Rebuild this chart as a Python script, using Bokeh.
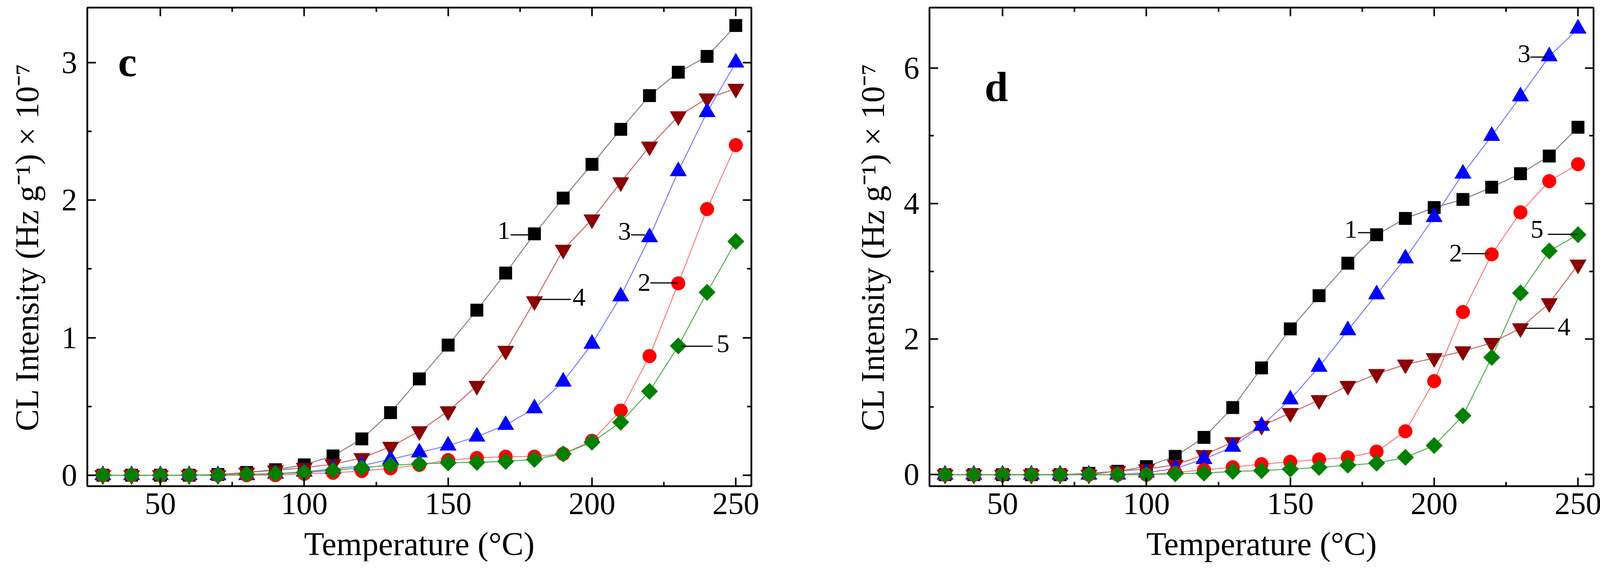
import math
from bokeh.plotting import figure
from bokeh.models import Range1d, FixedTicker, LinearAxis, Label, CustomJSTickFormatter
from bokeh.layouts import row
from bokeh.embed import file_html
from bokeh.resources import INLINE

# ---------------- data ----------------
temperature = [30, 40, 50, 60, 70, 80, 90, 100, 110, 120, 130, 140,
               150, 160, 170, 180, 190, 200, 210, 220, 230, 240, 250]

# panel c
c_1 = [0.0, 0.0, 0.0, 0.0, 0.005, 0.02, 0.04, 0.075, 0.14, 0.264, 0.455, 0.70,
       0.946, 1.20, 1.47, 1.755, 2.015, 2.26, 2.515, 2.76, 2.93, 3.045, 3.27]
c_2 = [0.0, 0.0, 0.0, 0.0, 0.0, 0.0, 0.0, 0.01, 0.017, 0.03, 0.05, 0.075,
       0.11, 0.125, 0.135, 0.135, 0.155, 0.25, 0.47, 0.866, 1.395, 1.935, 2.40]
c_3 = [0.0, 0.0, 0.0, 0.0, 0.0, 0.0, 0.01, 0.025, 0.045, 0.07, 0.115, 0.165,
       0.215, 0.28, 0.365, 0.486, 0.68, 0.955, 1.30, 1.73, 2.21, 2.64, 3.0]
c_4 = [0.0, 0.0, 0.0, 0.0, 0.0, 0.02, 0.035, 0.054, 0.08, 0.125, 0.207, 0.32,
       0.465, 0.65, 0.905, 1.265, 1.64, 1.86, 2.13, 2.39, 2.61, 2.74, 2.81]
c_5 = [0.0, 0.0, 0.0, 0.0, 0.0, 0.007, 0.011, 0.02, 0.035, 0.054, 0.073, 0.082,
       0.09, 0.093, 0.10, 0.115, 0.155, 0.24, 0.385, 0.61, 0.94, 1.33, 1.70]

# panel d
d_1 = [0.0, 0.0, 0.0, 0.0, 0.0, 0.02, 0.05, 0.12, 0.27, 0.55, 0.99, 1.575,
       2.15, 2.64, 3.12, 3.54, 3.78, 3.94, 4.06, 4.24, 4.44, 4.70, 5.125]
d_2 = [0.0, 0.0, 0.0, 0.0, 0.0, 0.0, 0.0, 0.0, 0.03, 0.07, 0.11, 0.155,
       0.19, 0.225, 0.255, 0.34, 0.64, 1.38, 2.40, 3.25, 3.87, 4.33, 4.58]
d_3 = [0.0, 0.0, 0.0, 0.0, 0.0, 0.0, 0.0, 0.03, 0.09, 0.23, 0.41, 0.72,
       1.11, 1.59, 2.13, 2.66, 3.19, 3.80, 4.44, 4.997, 5.58, 6.17, 6.58]
d_4 = [0.0, 0.0, 0.0, 0.0, 0.0, 0.0, 0.055, 0.08, 0.145, 0.29, 0.48, 0.72,
       0.91, 1.10, 1.31, 1.485, 1.625, 1.72, 1.82, 1.945, 2.16, 2.53, 3.10]
d_5 = [0.0, 0.0, 0.0, 0.0, 0.0, 0.0, 0.0, 0.0, 0.013, 0.023, 0.048, 0.06,
       0.082, 0.107, 0.14, 0.17, 0.255, 0.43, 0.87, 1.73, 2.68, 3.30, 3.54]

x_ticks = [50, 100, 150, 200, 250]
x_minor_ticks = [75, 125, 175, 225]
c_y_ticks = [0, 1, 2, 3]
c_y_minor_ticks = [0.5, 1.5, 2.5]
d_y_ticks = [0, 2, 4, 6]
d_y_minor_ticks = [1, 3, 5]

series_names = ["1", "2", "3", "4", "5"]
x_label = "Temperature (°C)"
y_label = "CL Intensity (Hz g⁻¹) × 10⁻⁷"

# ---------------- styles ----------------
SERIF = "Liberation Serif"
# name: (marker, fill color, line color, size, angle)
styles = {
    "1": ("square", "#000000", "#808080", 32, 0.0),
    "2": ("circle", "#ff0000", "#ff7a7a", 35, 0.0),
    "3": ("triangle", "#0000ff", "#7a7aff", 42, 0.0),
    "4": ("inverted_triangle", "#8b0000", "#c86464", 42, 0.0),
    "5": ("square", "#008000", "#4caf4c", 30, math.pi / 4),
}
draw_order = ["1", "4", "3", "2", "5"]


def style_axis(ax, show_labels=True):
    ax.axis_line_color = "black"
    ax.axis_line_width = 4
    ax.major_tick_in = 22
    ax.major_tick_out = 0
    ax.minor_tick_in = 11
    ax.minor_tick_out = 0
    ax.major_tick_line_width = 4
    ax.minor_tick_line_width = 4
    ax.major_tick_line_color = "black"
    ax.minor_tick_line_color = "black"
    if show_labels:
        ax.major_label_text_font = SERIF
        ax.major_label_text_font_size = "80px"
        ax.major_label_text_color = "black"
    else:
        ax.formatter = CustomJSTickFormatter(code="return ''")
        ax.major_label_text_font_size = "1px"
        ax.major_label_standoff = 0


def make_panel(letter, data, yr, yticks, yminor, labels, borders, ylab_standoff,
               letter_pos):
    p = figure(frame_width=1700, frame_height=1226,
               x_range=Range1d(24.6, 255.4), y_range=Range1d(*yr),
               output_backend="svg", toolbar_location=None,
               min_border_left=borders[0], min_border_right=borders[1],
               min_border_top=borders[2], min_border_bottom=borders[3])
    p.xgrid.visible = False
    p.ygrid.visible = False
    p.outline_line_color = "black"
    p.outline_line_width = 4
    p.background_fill_color = "white"
    p.border_fill_color = "white"

    xt = FixedTicker(ticks=x_ticks, minor_ticks=x_minor_ticks)
    yt = FixedTicker(ticks=yticks, minor_ticks=yminor)
    p.xaxis.ticker = xt
    p.yaxis.ticker = yt
    style_axis(p.xaxis[0])
    style_axis(p.yaxis[0])
    p.xaxis.major_label_standoff = 18
    p.yaxis.major_label_standoff = 26
    p.xaxis.axis_label = x_label
    p.yaxis.axis_label = y_label
    for ax in (p.xaxis[0], p.yaxis[0]):
        ax.axis_label_text_font = SERIF
        ax.axis_label_text_font_size = "84px"
        ax.axis_label_text_font_style = "normal"
        ax.axis_label_text_color = "black"
    p.xaxis.axis_label_standoff = 27
    p.yaxis.axis_label_standoff = ylab_standoff

    top = LinearAxis(ticker=FixedTicker(ticks=x_ticks, minor_ticks=x_minor_ticks))
    right = LinearAxis(ticker=FixedTicker(ticks=yticks, minor_ticks=yminor))
    style_axis(top, show_labels=False)
    style_axis(right, show_labels=False)
    p.add_layout(top, "above")
    p.add_layout(right, "right")

    for name in draw_order:
        _, _, lc, _, _ = styles[name]
        p.line(temperature, data[name], line_color=lc, line_width=2.5)
    for name in draw_order:
        mk, fc, _, sz, ang = styles[name]
        p.scatter(temperature, data[name], marker=mk, size=sz, angle=ang,
                  fill_color=fc, line_color=fc, line_width=1)

    # curve labels with leader lines
    for txt, tx, ty, align, x0, x1, ly in labels:
        p.add_layout(Label(x=tx, y=ty, text=txt, text_font=SERIF,
                           text_font_size="66px", text_color="black",
                           text_align=align, text_baseline="middle"))
        p.segment(x0=[x0], y0=[ly], x1=[x1], y1=[ly], line_color="black",
                  line_width=3)

    p.add_layout(Label(x=letter_pos[0], y=letter_pos[1], text=letter,
                       text_font=SERIF, text_font_size="108px",
                       text_font_style="bold", text_color="black",
                       text_align="left", text_baseline="alphabetic"))
    return p


c_data = dict(zip(series_names, [c_1, c_2, c_3, c_4, c_5]))
d_data = dict(zip(series_names, [d_1, d_2, d_3, d_4, d_5]))

# label: text, text x, text y, align, leader x0, leader x1, leader y
c_labels = [
    ("1", 171.6, 1.78, "right", 171.7, 178.3, 1.747),
    ("3", 213.6, 1.774, "right", 213.6, 218.4, 1.747),
    ("4", 193.3, 1.293, "left", 180.8, 192.7, 1.278),
    ("2", 220.4, 1.403, "right", 220.3, 229.8, 1.398),
    ("5", 243.3, 0.955, "left", 230.8, 242.0, 0.9375),
]
d_labels = [
    ("3", 233.5, 6.21, "right", 233.4, 239.0, 6.16),
    ("1", 173.3, 3.62, "right", 173.5, 178.5, 3.57),
    ("2", 209.7, 3.27, "right", 209.6, 219.0, 3.26),
    ("5", 233.5, 3.62, "left", 239.5, 250.0, 3.545),
    ("4", 242.9, 2.18, "left", 230.6, 241.8, 2.16),
]

p1 = make_panel("c", c_data, (-0.08, 3.40), c_y_ticks, c_y_minor_ticks, c_labels,
                (223, 142, 15, 190), 39, (35.3, 3.006))
p2 = make_panel("d", d_data, (-0.17, 6.89), d_y_ticks, d_y_minor_ticks, d_labels,
                (314, 30, 19, 186), 30, (43.75, 5.72))

layout = row(p1, p2)
open("out.html", "w").write(file_html(layout, INLINE))
